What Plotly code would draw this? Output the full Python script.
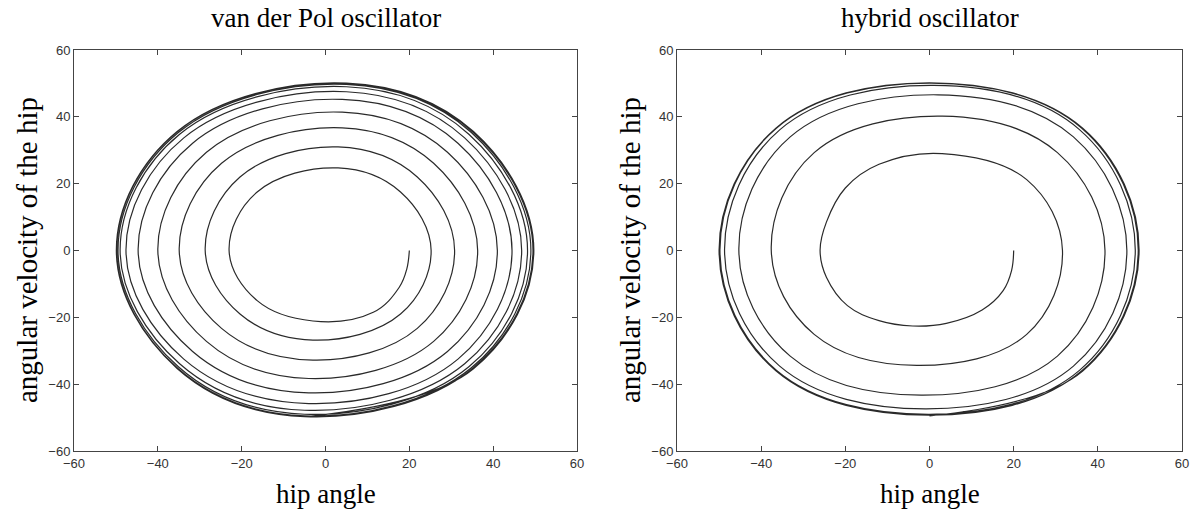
import plotly.graph_objects as go

# ---- data (phase-portrait points, in order along the trajectory) ----
vdp_x = [20, 19.4, 17.6, 11.4, -3, -16.3, -23, -16.3, 3, 17.9,
         25.2, 17.9, -3, -20.4, -28.7, -20.4, 3, 21.9,
         30.8, 21.9, -3, -24.8, -34.9, -24.8, 4, 25.8,
         36.3, 25.8, -4, -28.4, -40, -28.4, 4, 29.1,
         41, 29.1, -4, -31.7, -44.7, -31.7, 4, 31.6,
         44.5, 31.6, -4, -33.8, -47.6, -33.8, 5, 33.2,
         46.8, 33.2, -5, -34.8, -49, -34.8, 5, 34.2,
         48.2, 34.2, -5, -35.1, -49.5, -35.1, 5, 34.8,
         49, 34.8, -5, -35.4, -49.8, -35.4, 5, 35.1,
         49.5, 35.1, -5, -35.4, -49.9, -35.4, 5, 35.3,
         49.7, 35.3, -5]
vdp_y = [0, -5.5, -11, -18.5, -21.1, -15.0, 0, 17.5, 24.7, 17.5,
         0, -19.0, -26.8, -19.0, 0, 22.0, 31, 22.0,
         0, -23.3, -32.8, -23.3, 0, 26.1, 36.7, 26.1,
         0, -27.2, -38.3, -27.2, 0, 29.4, 41.4, 29.4,
         0, -30.2, -42.6, -30.2, 0, 32.1, 45.2, 32.1,
         0, -32.5, -45.8, -32.5, 0, 33.7, 47.5, 33.7,
         0, -33.9, -47.8, -33.9, 0, 34.8, 49, 34.8,
         0, -34.8, -49, -34.8, 0, 35.3, 49.7, 35.3,
         0, -35.1, -49.5, -35.1, 0, 35.5, 50, 35.5,
         0, -35.3, -49.7, -35.3, 0, 35.6, 50.1, 35.6,
         0, -35.4, -49.8]

hyb_x = [20, 19.5, 17.5, 12.5, 4, -4, -12, -19.5, -24.5, -26, -24.5, -20, -12, 3, 23.1,
         31.6, 23.1, -3, -27.4, -37.6, -27.4, 3, 30.4,
         41.7, 30.4, -2, -33.1, -45.3, -33.1, 2, 34.2,
         46.9, 34.2, -1, -35.6, -48.7, -35.6, 1, 35.7,
         48.9, 35.7, 0, -36.4, -49.8, -36.4, 0.5, 36.2,
         49.6, 36.2, 0, -36.5, -50, -36.5, 0, 36.4,
         49.8, 36.4, 0]
hyb_y = [0, -6, -12, -17.8, -21.8, -22.6, -21, -16.5, -8, 0, 8.5, 18.7, 25.8, 29, 21.2,
         0, -25.1, -34.4, -25.1, 0, 29.3, 40.2, 29.3,
         0, -31.6, -43.3, -31.6, 0, 34.0, 46.6, 34.0,
         0, -34.6, -47.4, -34.6, 0, 36.1, 49.4, 36.1,
         0, -35.8, -49, -35.8, 0, 36.6, 50.1, 36.6,
         0, -36.0, -49.3, -36.0, 0, 36.6, 50.2, 36.6,
         0, -36.1, -49.5]

titles = ["van der Pol oscillator", "hybrid oscillator"]
x_label = "hip angle"
y_label = "angular velocity of the hip"
tick_vals = [-60, -40, -20, 0, 20, 40, 60]

W, H = 1195, 512
dom_x = [[74 / W, 577 / W], [677 / W, 1182 / W]]
dom_y = [1 - 451 / H, 1 - 50 / H]

fig = go.Figure()
line_style = dict(color="#2a2a2a", width=1.2, shape="spline", smoothing=1.1)
fig.add_trace(go.Scatter(x=vdp_x, y=vdp_y, mode="lines", line=line_style,
                         xaxis="x", yaxis="y", showlegend=False))
fig.add_trace(go.Scatter(x=hyb_x, y=hyb_y, mode="lines", line=line_style,
                         xaxis="x2", yaxis="y2", showlegend=False))

axis_common = dict(range=[-60, 60], tickvals=tick_vals, ticks="inside", ticklen=5,
                   tickcolor="#444444", showline=True, linecolor="#444444", linewidth=1,
                   mirror="ticks", showgrid=False, zeroline=False, automargin=False,
                   tickfont=dict(family="Liberation Sans, Arial", size=13, color="#333333"))

fig.update_layout(
    width=W, height=H, margin=dict(l=0, r=0, t=0, b=0, autoexpand=False),
    paper_bgcolor="white", plot_bgcolor="white",
    xaxis=dict(domain=dom_x[0], anchor="y", **axis_common),
    yaxis=dict(domain=dom_y, anchor="x", **axis_common),
    xaxis2=dict(domain=dom_x[1], anchor="y2", **axis_common),
    yaxis2=dict(domain=dom_y, anchor="x2", **axis_common),
)

serif = "Liberation Serif, Times New Roman, serif"
ann = []
for i in range(2):
    cx = (dom_x[i][0] + dom_x[i][1]) / 2
    ann.append(dict(text=titles[i], x=cx, y=1 - 18 / H, xref="paper", yref="paper",
                    showarrow=False, xanchor="center", yanchor="middle",
                    font=dict(family=serif, size=27, color="black")))
    ann.append(dict(text=x_label, x=cx, y=1 - 494 / H, xref="paper", yref="paper",
                    showarrow=False, xanchor="center", yanchor="middle",
                    font=dict(family=serif, size=27, color="black")))
    lx = (27 if i == 0 else 630) / W
    ann.append(dict(text=y_label, x=lx, y=1 - 250 / H, xref="paper", yref="paper",
                    showarrow=False, xanchor="center", yanchor="middle", textangle=-90,
                    font=dict(family=serif, size=29, color="black")))
fig.update_layout(annotations=ann)

fig.write_html("out.html")
